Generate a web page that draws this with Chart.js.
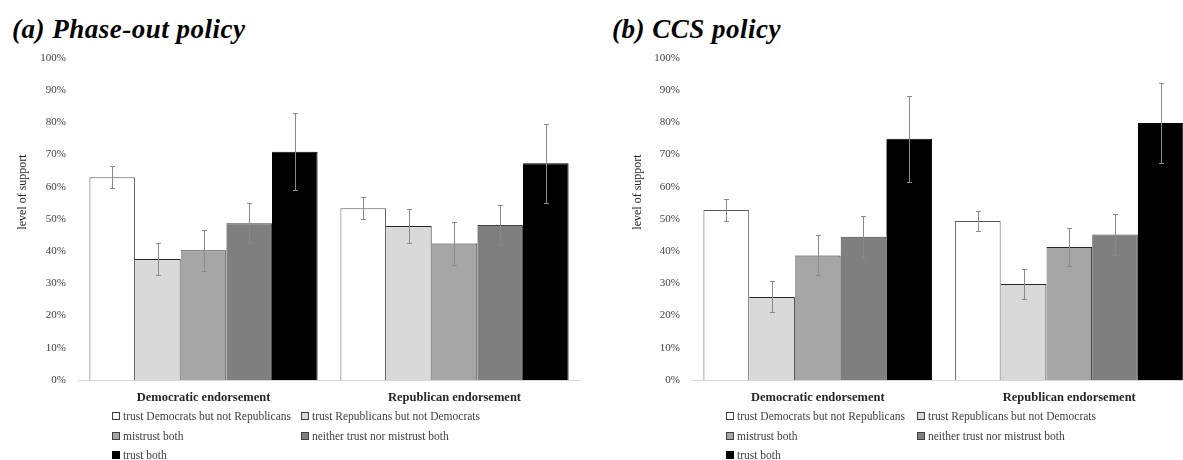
<!DOCTYPE html>
<html>
<head>
<meta charset="utf-8">
<script src="https://cdn.jsdelivr.net/npm/chart.js@4.4.1/dist/chart.umd.min.js"></script>
<style>
  html, body { margin: 0; padding: 0; background: #fff; }
  body { position: relative; width: 1183px; height: 460px; overflow: hidden; font-family: "Liberation Serif", serif; }
  .panel-title { position: absolute; top: 13px; font: italic bold 27px "Liberation Serif", serif; letter-spacing: 0.5px; color: #000; white-space: nowrap; line-height: 32px; }
  .chart-box { position: absolute; top: 0; width: 600px; height: 460px; }
  .legend-item { position: absolute; height: 14px; line-height: 14px; white-space: nowrap; font: 11.5px "Liberation Serif", serif; color: #404040; display: flex; align-items: center; }
  .swatch { width: 6px; height: 6px; border: 1px solid #404040; margin-right: 3px; }
</style>
</head>
<body>
<div class="panel-title" style="left:12px">(a) Phase-out policy</div>
<div class="panel-title" style="left:612px">(b) CCS policy</div>
<div class="chart-box" style="left:0"><canvas id="phaseOut" width="600" height="460"></canvas></div>
<div class="chart-box" style="left:600px"><canvas id="ccs" width="600" height="460"></canvas></div>
<div id="legendPhaseOut"></div>
<div id="legendCcs"></div>

<script>
// Endorsement conditions on the x axis
const categories = ['Democratic endorsement', 'Republican endorsement'];

// Respondent groups by partisan trust
const seriesNames = [
  'trust Democrats but not Republicans',
  'trust Republicans but not Democrats',
  'mistrust both',
  'neither trust nor mistrust both',
  'trust both'
];

// Y axis tick labels (percent)
const yTicks = [0, 10, 20, 30, 40, 50, 60, 70, 80, 90, 100];

// (a) Phase-out policy: mean support (%) per group, [Democratic, Republican]
const phaseOutTrustDem     = [63.0, 53.3];
const phaseOutTrustRep     = [37.6, 47.8];
const phaseOutMistrustBoth = [40.3, 42.4];
const phaseOutNeither      = [48.7, 48.1];
const phaseOutTrustBoth    = [70.9, 67.3];

// (a) half-widths of the confidence intervals (%)
const phaseOutErrTrustDem     = [3.4, 3.4];
const phaseOutErrTrustRep     = [5.1, 5.2];
const phaseOutErrMistrustBoth = [6.4, 6.6];
const phaseOutErrNeither      = [6.2, 6.3];
const phaseOutErrTrustBoth    = [12.0, 12.3];

// (b) CCS policy: mean support (%) per group, [Democratic, Republican]
const ccsTrustDem     = [52.8, 49.4];
const ccsTrustRep     = [25.8, 29.8];
const ccsMistrustBoth = [38.7, 41.3];
const ccsNeither      = [44.5, 45.2];
const ccsTrustBoth    = [74.9, 79.8];

// (b) half-widths of the confidence intervals (%)
const ccsErrTrustDem     = [3.3, 3.2];
const ccsErrTrustRep     = [4.8, 4.7];
const ccsErrMistrustBoth = [6.2, 6.0];
const ccsErrNeither      = [6.3, 6.3];
const ccsErrTrustBoth    = [13.3, 12.5];

// Grey ramp used for the five groups
const fillColors   = ['#ffffff', '#d9d9d9', '#a6a6a6', '#7f7f7f', '#000000'];
const borderColors = ['#595959', '#262626', '#262626', '#404040', '#000000'];

const SERIF = '"Liberation Serif", serif';

// Vertical whiskers with small caps at mean ± half-width
const errorBars = {
  id: 'errorBars',
  afterDatasetsDraw(chart, args, opts) {
    const { ctx } = chart;
    const yScale = chart.scales.y;
    chart.data.datasets.forEach((ds, i) => {
      const meta = chart.getDatasetMeta(i);
      if (meta.hidden) return;
      meta.data.forEach((bar, j) => {
        const v = ds.data[j], e = ds.errors[j];
        const yTop = Math.round(yScale.getPixelForValue(v + e)) + 0.5;
        const yBot = Math.round(yScale.getPixelForValue(v - e)) + 0.5;
        const x = Math.round(bar.x) + 0.5;
        ctx.save();
        ctx.strokeStyle = opts.color;
        ctx.lineWidth = 1;
        ctx.beginPath();
        ctx.moveTo(x, yTop); ctx.lineTo(x, yBot);
        ctx.moveTo(x - opts.cap - 0.5, yTop); ctx.lineTo(x + opts.cap + 0.5, yTop);
        ctx.moveTo(x - opts.cap - 0.5, yBot); ctx.lineTo(x + opts.cap + 0.5, yBot);
        ctx.stroke();
        ctx.restore();
      });
    });
  }
};

// Rotated caption beside the value axis
const axisCaption = {
  id: 'axisCaption',
  afterDraw(chart, args, opts) {
    const { ctx } = chart;
    ctx.save();
    ctx.translate(opts.x, opts.y);
    ctx.rotate(-Math.PI / 2);
    ctx.textAlign = 'center';
    ctx.textBaseline = 'middle';
    ctx.fillStyle = opts.color;
    ctx.font = opts.font;
    ctx.fillText(opts.text, 0, 0);
    ctx.restore();
  }
};

function buildChart(canvasId, series, errors, axisWidth, padRight, captionX) {
  const datasets = seriesNames.map((name, i) => ({
    label: name,
    data: series[i],
    errors: errors[i],
    backgroundColor: fillColors[i],
    borderColor: borderColors[i],
    // first bar of each group carries a left edge; every bar closes with its own right edge
    borderWidth: { top: 1, right: 1, bottom: 0, left: i === 0 ? 1 : 0 },
    borderSkipped: false,
    inflateAmount: 0,
    categoryPercentage: 5 / 5.5,
    barPercentage: 1.0
  }));

  return new Chart(document.getElementById(canvasId), {
    type: 'bar',
    data: { labels: categories, datasets },
    options: {
      responsive: false,
      animation: false,
      layout: { padding: { top: 58, right: padRight, left: 0, bottom: 0 } },
      plugins: {
        legend: { display: false },
        tooltip: { enabled: false },
        errorBars: { color: '#8a8a8a', cap: 2 },
        axisCaption: { text: 'level of support', x: captionX, y: 192, color: '#262626', font: '12px ' + SERIF }
      },
      scales: {
        x: {
          grid: { display: false, drawTicks: false },
          border: { display: true, color: '#d9d9d9', width: 1 },
          ticks: { color: '#262626', padding: 10, font: { family: SERIF, size: 12.5, weight: 'bold' } },
          afterFit: s => { s.height = 80; }
        },
        y: {
          min: 0, max: 100,
          grid: { display: false, drawTicks: false },
          border: { display: false },
          afterBuildTicks: s => { s.ticks = yTicks.map(v => ({ value: v })); },
          ticks: { color: '#404040', padding: 12, font: { family: SERIF, size: 11 }, callback: v => v + '%' },
          afterFit: s => { s.width = axisWidth; }
        }
      }
    },
    plugins: [errorBars, axisCaption]
  });
}

buildChart('phaseOut',
  [phaseOutTrustDem, phaseOutTrustRep, phaseOutMistrustBoth, phaseOutNeither, phaseOutTrustBoth],
  [phaseOutErrTrustDem, phaseOutErrTrustRep, phaseOutErrMistrustBoth, phaseOutErrNeither, phaseOutErrTrustBoth],
  78, 20, 23);

buildChart('ccs',
  [ccsTrustDem, ccsTrustRep, ccsMistrustBoth, ccsNeither, ccsTrustBoth],
  [ccsErrTrustDem, ccsErrTrustRep, ccsErrMistrustBoth, ccsErrNeither, ccsErrTrustBoth],
  92, 5, 38);

// Two-column legend under each panel
function buildLegend(containerId, left0, left1) {
  const box = document.getElementById(containerId);
  const rowTops = [409, 429, 448];
  seriesNames.forEach((name, i) => {
    const item = document.createElement('div');
    item.className = 'legend-item';
    item.style.left = (i % 2 === 0 ? left0 : left1) + 'px';
    item.style.top = rowTops[Math.floor(i / 2)] + 'px';
    const sw = document.createElement('span');
    sw.className = 'swatch';
    sw.style.background = fillColors[i];
    sw.style.borderColor = borderColors[i] === '#000000' ? '#000' : '#404040';
    const tx = document.createElement('span');
    tx.textContent = name;
    item.appendChild(sw);
    item.appendChild(tx);
    box.appendChild(item);
  });
}
buildLegend('legendPhaseOut', 112, 301);
buildLegend('legendCcs', 726, 917);
</script>
</body>
</html>
